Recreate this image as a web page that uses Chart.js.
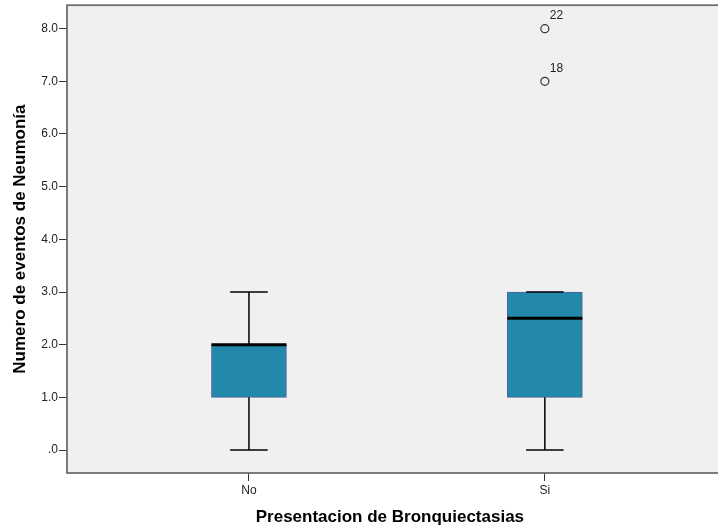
<!DOCTYPE html>
<html>
<head>
<meta charset="utf-8">
<script src="https://cdn.jsdelivr.net/npm/chart.js@4/dist/chart.umd.min.js"></script>
<style>
  html, body { margin: 0; padding: 0; background: #ffffff; }
  #wrap { width: 718px; height: 531px; }
</style>
</head>
<body>
<div id="wrap"><canvas id="boxChart" width="718" height="531"></canvas></div>
<script>
// Datos del diagrama de caja
const categories = ['No', 'Si'];
const xPositions = [1, 2];
const whiskerMin = [0, 0];
const q1 = [1, 1];
const median = [2, 2.5];
const q3 = [2, 3];
const whiskerMax = [3, 3];
// valores atípicos (solo en "Si")
const outlierX = [2, 2];
const outlierY = [7, 8];
const outlierLabels = ['18', '22'];
const yTicks = [0, 1, 2, 3, 4, 5, 6, 7, 8];

const boxColor = '#2389ab';
const boxBorder = '#51609d';
const boxWidth = 75;
const fontFamily = '"Liberation Sans", Arial, sans-serif';

// Fondo y marco del área del gráfico
const framePlugin = {
    id: 'frame',
    beforeDraw(chart) {
        const { ctx, chartArea: a } = chart;
        ctx.save();
        ctx.fillStyle = '#f0f0f0';
        ctx.fillRect(a.left, a.top, chart.width - a.left, a.bottom - a.top);
        ctx.restore();
    },
    afterDraw(chart) {
        const { ctx, chartArea: a } = chart;
        ctx.save();
        ctx.strokeStyle = '#6e6e6e';
        ctx.lineWidth = 1.8;
        ctx.strokeRect(a.left, a.top, chart.width - a.left + 10, a.bottom - a.top);
        ctx.restore();
    }
};

// Bigotes, medianas y etiquetas de atípicos
const boxPlugin = {
    id: 'boxExtras',
    afterDatasetsDraw(chart) {
        const { ctx, scales: { x, y } } = chart;
        ctx.save();
        ctx.strokeStyle = '#000';
        xPositions.forEach((pos, i) => {
            const cx = x.getPixelForValue(pos);
            const capHalf = boxWidth / 4;
            ctx.lineWidth = 1.5;
            ctx.beginPath();
            // bigote superior
            ctx.moveTo(cx, y.getPixelForValue(q3[i]));
            ctx.lineTo(cx, y.getPixelForValue(whiskerMax[i]));
            ctx.moveTo(cx - capHalf, y.getPixelForValue(whiskerMax[i]));
            ctx.lineTo(cx + capHalf, y.getPixelForValue(whiskerMax[i]));
            // bigote inferior
            ctx.moveTo(cx, y.getPixelForValue(q1[i]));
            ctx.lineTo(cx, y.getPixelForValue(whiskerMin[i]));
            ctx.moveTo(cx - capHalf, y.getPixelForValue(whiskerMin[i]));
            ctx.lineTo(cx + capHalf, y.getPixelForValue(whiskerMin[i]));
            ctx.stroke();
            // mediana
            ctx.lineWidth = 3;
            ctx.beginPath();
            ctx.moveTo(cx - boxWidth / 2, y.getPixelForValue(median[i]));
            ctx.lineTo(cx + boxWidth / 2, y.getPixelForValue(median[i]));
            ctx.stroke();
        });
        ctx.fillStyle = '#222';
        ctx.font = '12px ' + fontFamily;
        ctx.textAlign = 'left';
        ctx.textBaseline = 'middle';
        outlierY.forEach((v, i) => {
            const px = x.getPixelForValue(outlierX[i]);
            const py = y.getPixelForValue(v);
            ctx.fillText(outlierLabels[i], px + 5, py - 13);
        });
        ctx.restore();
    }
};

new Chart(document.getElementById('boxChart'), {
    type: 'bar',
    data: {
        datasets: [{
            label: 'Caja',
            data: xPositions.map((pos, i) => ({ x: pos, y: [q1[i], q3[i]] })),
            backgroundColor: boxColor,
            borderColor: boxBorder,
            borderWidth: 1,
            borderSkipped: false,
            barThickness: boxWidth,
            order: 2
        }, {
            type: 'scatter',
            label: 'Atípicos',
            data: outlierY.map((v, i) => ({ x: outlierX[i], y: v })),
            pointStyle: 'circle',
            pointRadius: 4,
            backgroundColor: 'rgba(0,0,0,0)',
            borderColor: '#333',
            borderWidth: 1.2,
            order: 1
        }]
    },
    options: {
        responsive: false,
        animation: false,
        layout: { padding: { top: 4, right: 0, left: 0, bottom: 0 } },
        plugins: {
            legend: { display: false },
            tooltip: { enabled: false }
        },
        scales: {
            x: {
                type: 'linear',
                offset: false,
                min: 0.3851,
                max: 2.5676,
                afterBuildTicks: s => { s.ticks = xPositions.map(v => ({ value: v })); },
                afterFit: s => { s.height = 58; s.paddingLeft = 0; s.paddingRight = 0; },
                ticks: {
                    callback: v => categories[xPositions.indexOf(v)],
                    color: '#222',
                    font: { size: 12, family: fontFamily },
                    padding: 2,
                    maxRotation: 0
                },
                grid: { drawOnChartArea: false, offset: false, tickLength: 8, color: '#333' },
                border: { display: false },
                title: {
                    display: true,
                    text: 'Presentacion de Bronquiectasias',
                    color: '#000',
                    font: { size: 17, weight: 'bold', family: fontFamily },
                    padding: { top: 0, bottom: 3 }
                }
            },
            y: {
                min: -0.436,
                max: 8.445,
                afterBuildTicks: s => { s.ticks = yTicks.map(v => ({ value: v })); },
                afterFit: s => { s.width = 67; s.paddingTop = 0; s.paddingBottom = 0; },
                ticks: {
                    callback: v => v === 0 ? '.0' : v.toFixed(1),
                    color: '#222',
                    font: { size: 12, family: fontFamily },
                    padding: 1
                },
                grid: { drawOnChartArea: false, tickLength: 8, color: '#333' },
                border: { display: false },
                title: {
                    display: true,
                    text: 'Numero de eventos de Neumonía',
                    color: '#000',
                    font: { size: 17, weight: 'bold', family: fontFamily },
                    padding: { top: 10, bottom: 0 }
                }
            }
        }
    },
    plugins: [framePlugin, boxPlugin]
});
</script>
</body>
</html>
